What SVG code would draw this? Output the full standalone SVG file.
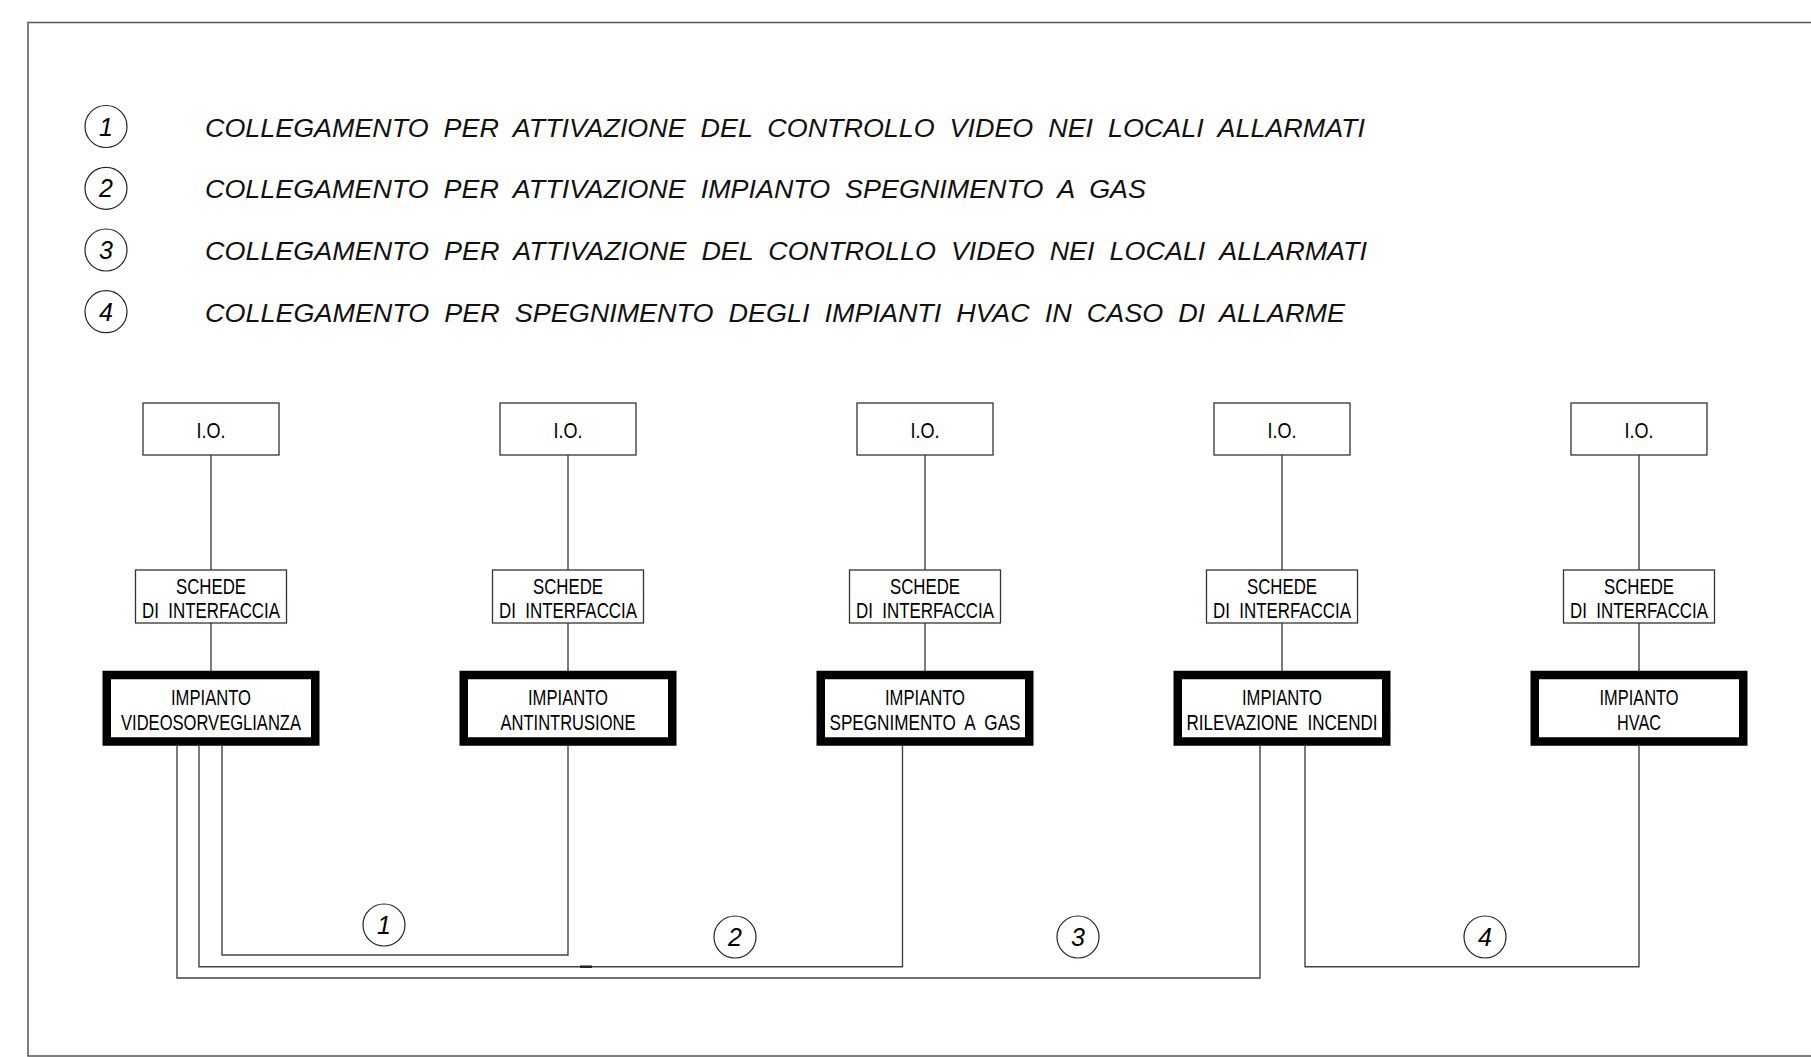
<svg xmlns="http://www.w3.org/2000/svg" width="1811" height="1057" viewBox="0 0 1811 1057">
<style>
  .frame{fill:none;stroke:#555;stroke-width:1.5}
  .thin{fill:#fff;stroke:#333;stroke-width:1.3}
  .thick{fill:#fff;stroke:#000;stroke-width:8.5}
  .wire{fill:none;stroke:#444;stroke-width:1.4}
  .circ{fill:none;stroke:#222;stroke-width:1.2}
  text{white-space:pre}
  .bt{font-family:"Liberation Sans",Arial,sans-serif;font-size:22.5px;fill:#000;text-anchor:middle}
  .lg{font-family:"Liberation Sans",Arial,sans-serif;font-size:26.5px;font-style:italic;fill:#111}
  .num{font-family:"Liberation Sans",Arial,sans-serif;font-size:25px;font-style:italic;fill:#000;text-anchor:middle}
</style>
<rect width="1811" height="1057" fill="#fff"/>
<g id="frame">
  <path class="frame" d="M1811 22.5H28V1056H1811"/>
</g>
<g id="legend" xml:space="preserve">
  <circle class="circ" cx="106" cy="126.5" r="21"/>
  <text class="num" x="106" y="135.5">1</text>
  <text class="lg" x="205" y="136.7" textLength="1160" lengthAdjust="spacingAndGlyphs">COLLEGAMENTO  PER  ATTIVAZIONE  DEL  CONTROLLO  VIDEO  NEI  LOCALI  ALLARMATI</text>
  <circle class="circ" cx="106" cy="188.3" r="21"/>
  <text class="num" x="106" y="197.3">2</text>
  <text class="lg" x="205" y="198.4" textLength="941" lengthAdjust="spacingAndGlyphs">COLLEGAMENTO  PER  ATTIVAZIONE  IMPIANTO  SPEGNIMENTO  A  GAS</text>
  <circle class="circ" cx="106" cy="250" r="21"/>
  <text class="num" x="106" y="259">3</text>
  <text class="lg" x="205" y="260" textLength="1162" lengthAdjust="spacingAndGlyphs">COLLEGAMENTO  PER  ATTIVAZIONE  DEL  CONTROLLO  VIDEO  NEI  LOCALI  ALLARMATI</text>
  <circle class="circ" cx="106" cy="311.7" r="21"/>
  <text class="num" x="106" y="320.7">4</text>
  <text class="lg" x="205" y="321.7" textLength="1140" lengthAdjust="spacingAndGlyphs">COLLEGAMENTO  PER  SPEGNIMENTO  DEGLI  IMPIANTI  HVAC  IN  CASO  DI  ALLARME</text>
</g>
<g id="connectors">
  <path class="wire" d="M211 455V570M211 623V671"/>
  <path class="wire" d="M568 455V570M568 623V671"/>
  <path class="wire" d="M925 455V570M925 623V671"/>
  <path class="wire" d="M1282 455V570M1282 623V671"/>
  <path class="wire" d="M1639 455V570M1639 623V671"/>
  <path class="wire" d="M222 746V955H568V746"/>
  <path class="wire" d="M199 746V966.7H902.5V746"/>
  <path class="wire" d="M177 746V978H1260V746"/>
  <path class="wire" d="M1305 746V966.7H1639V746"/>
  <path d="M580 966.7H592" stroke="#222" stroke-width="2.5"/>
  <circle class="circ" cx="384" cy="925" r="21"/>
  <text class="num" x="384" y="934">1</text>
  <circle class="circ" cx="735" cy="937" r="21"/>
  <text class="num" x="735" y="946">2</text>
  <circle class="circ" cx="1078" cy="937" r="21"/>
  <text class="num" x="1078" y="946">3</text>
  <circle class="circ" cx="1485" cy="937" r="21"/>
  <text class="num" x="1485" y="946">4</text>
</g>
<g id="io1"><rect class="thin" x="143" y="403" width="136" height="52"/><text class="bt" x="211" y="438" textLength="29" lengthAdjust="spacingAndGlyphs">I.O.</text></g>
<g id="io2"><rect class="thin" x="500" y="403" width="136" height="52"/><text class="bt" x="568" y="438" textLength="29" lengthAdjust="spacingAndGlyphs">I.O.</text></g>
<g id="io3"><rect class="thin" x="857" y="403" width="136" height="52"/><text class="bt" x="925" y="438" textLength="29" lengthAdjust="spacingAndGlyphs">I.O.</text></g>
<g id="io4"><rect class="thin" x="1214" y="403" width="136" height="52"/><text class="bt" x="1282" y="438" textLength="29" lengthAdjust="spacingAndGlyphs">I.O.</text></g>
<g id="io5"><rect class="thin" x="1571" y="403" width="136" height="52"/><text class="bt" x="1639" y="438" textLength="29" lengthAdjust="spacingAndGlyphs">I.O.</text></g>
<g id="schede1" xml:space="preserve"><rect class="thin" x="135.5" y="570" width="151" height="53"/><text class="bt" x="211" y="593.5" textLength="70" lengthAdjust="spacingAndGlyphs">SCHEDE</text><text class="bt" x="211" y="618.3" textLength="138" lengthAdjust="spacingAndGlyphs">DI  INTERFACCIA</text></g>
<g id="schede2" xml:space="preserve"><rect class="thin" x="492.5" y="570" width="151" height="53"/><text class="bt" x="568" y="593.5" textLength="70" lengthAdjust="spacingAndGlyphs">SCHEDE</text><text class="bt" x="568" y="618.3" textLength="138" lengthAdjust="spacingAndGlyphs">DI  INTERFACCIA</text></g>
<g id="schede3" xml:space="preserve"><rect class="thin" x="849.5" y="570" width="151" height="53"/><text class="bt" x="925" y="593.5" textLength="70" lengthAdjust="spacingAndGlyphs">SCHEDE</text><text class="bt" x="925" y="618.3" textLength="138" lengthAdjust="spacingAndGlyphs">DI  INTERFACCIA</text></g>
<g id="schede4" xml:space="preserve"><rect class="thin" x="1206.5" y="570" width="151" height="53"/><text class="bt" x="1282" y="593.5" textLength="70" lengthAdjust="spacingAndGlyphs">SCHEDE</text><text class="bt" x="1282" y="618.3" textLength="138" lengthAdjust="spacingAndGlyphs">DI  INTERFACCIA</text></g>
<g id="schede5" xml:space="preserve"><rect class="thin" x="1563.5" y="570" width="151" height="53"/><text class="bt" x="1639" y="593.5" textLength="70" lengthAdjust="spacingAndGlyphs">SCHEDE</text><text class="bt" x="1639" y="618.3" textLength="138" lengthAdjust="spacingAndGlyphs">DI  INTERFACCIA</text></g>
<g id="impianto-videosorveglianza"><rect class="thick" x="106.75" y="675" width="208.5" height="66.5"/><text class="bt" x="211" y="705" textLength="80" lengthAdjust="spacingAndGlyphs">IMPIANTO</text><text class="bt" x="211" y="729.5" textLength="180" lengthAdjust="spacingAndGlyphs">VIDEOSORVEGLIANZA</text></g>
<g id="impianto-antintrusione"><rect class="thick" x="463.75" y="675" width="208.5" height="66.5"/><text class="bt" x="568" y="705" textLength="80" lengthAdjust="spacingAndGlyphs">IMPIANTO</text><text class="bt" x="568" y="729.5" textLength="135" lengthAdjust="spacingAndGlyphs">ANTINTRUSIONE</text></g>
<g id="impianto-spegnimento" xml:space="preserve"><rect class="thick" x="820.75" y="675" width="208.5" height="66.5"/><text class="bt" x="925" y="705" textLength="80" lengthAdjust="spacingAndGlyphs">IMPIANTO</text><text class="bt" x="925" y="729.5" textLength="191" lengthAdjust="spacingAndGlyphs">SPEGNIMENTO  A  GAS</text></g>
<g id="impianto-rilevazione" xml:space="preserve"><rect class="thick" x="1177.75" y="675" width="208.5" height="66.5"/><text class="bt" x="1282" y="705" textLength="80" lengthAdjust="spacingAndGlyphs">IMPIANTO</text><text class="bt" x="1282" y="729.5" textLength="191" lengthAdjust="spacingAndGlyphs">RILEVAZIONE  INCENDI</text></g>
<g id="impianto-hvac"><rect class="thick" x="1534.75" y="675" width="208.5" height="66.5"/><text class="bt" x="1639" y="705" textLength="79" lengthAdjust="spacingAndGlyphs">IMPIANTO</text><text class="bt" x="1639" y="729.5" textLength="44" lengthAdjust="spacingAndGlyphs">HVAC</text></g>
</svg>
